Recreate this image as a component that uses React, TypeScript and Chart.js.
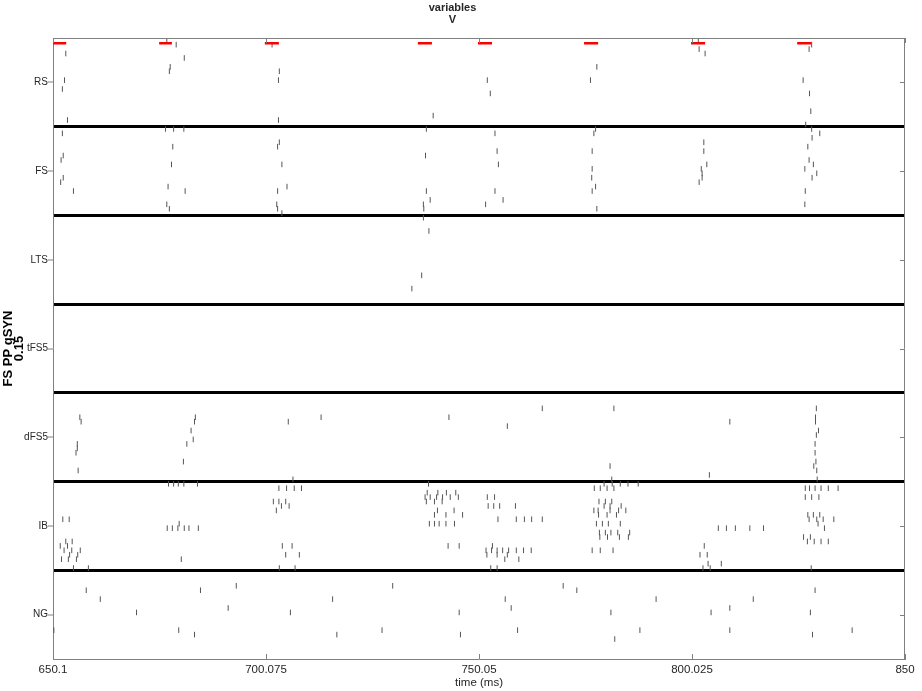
import React, { useEffect, useRef } from 'react';
import { Chart, registerables } from 'chart.js';

Chart.register(...registerables);

// ---------- data ----------
const POPULATIONS = ['RS', 'FS', 'LTS', 'tFS5', 'dFS5', 'IB', 'NG'];
const CELLS_PER_POP = 20;

const X_MIN = 650.1;
const X_MAX = 850;
const X_TICKS = [650.1, 700.075, 750.05, 800.025, 850];
const X_TICK_LABELS = ['650.1', '700.075', '750.05', '800.025', '850'];

// stimulus pulses (red bars, drawn near the top of the RS band)
const STIM_ON = [650.1, 675.0, 699.8, 735.7, 749.8, 774.7, 799.8, 824.7];
const STIM_OFF = [653.2, 678.0, 703.1, 739.0, 753.1, 778.0, 803.1, 828.0];
const STIM_LEVEL = 0.06;

// spikes: [time (ms), cell index]
const RS_SPIKES: [number, number][] = [
  [653.1, 3], [652.8, 9], [652.3, 11], [653.5, 18],
  [676.8, 0], [679.0, 1], [680.9, 4], [677.6, 6], [677.4, 7],
  [701.5, 1], [703.2, 7], [703.0, 9], [703.0, 18],
  [739.3, 17],
  [752.0, 9], [752.7, 12],
  [777.7, 6], [776.2, 9],
  [801.5, 0], [801.7, 2], [803.1, 3],
  [828.1, 1], [827.5, 2], [826.1, 9], [827.6, 12], [827.9, 16], [826.7, 19],
];

const FS_SPIKES: [number, number][] = [
  [652.3, 1], [652.5, 6], [652.0, 7], [652.5, 11], [651.9, 12], [654.9, 14],
  [676.5, 0], [678.4, 0], [680.8, 0], [678.2, 4], [677.9, 8], [677.1, 13], [681.1, 14], [676.8, 17], [677.4, 18],
  [703.2, 3], [702.8, 4], [703.8, 8], [705.0, 13], [702.8, 14], [702.6, 17], [702.8, 18], [703.8, 19],
  [737.7, 0], [737.5, 6], [737.7, 14], [738.6, 16], [737.0, 17], [737.1, 18],
  [753.8, 1], [754.3, 5], [754.6, 8], [753.8, 14], [755.7, 16], [751.6, 17],
  [777.4, 0], [777.0, 1], [776.6, 5], [776.6, 9], [776.5, 11], [777.4, 13], [776.6, 14], [777.7, 18],
  [802.8, 3], [802.8, 5], [803.5, 8], [802.2, 9], [802.4, 10], [802.4, 11], [801.7, 12],
  [828.1, 0], [830.0, 1], [828.2, 2], [827.2, 4], [827.5, 7], [828.5, 8], [826.5, 9], [829.3, 10], [828.2, 11], [826.6, 14], [826.5, 17],
];

const LTS_SPIKES: [number, number][] = [
  [737.0, 0], [738.3, 3], [736.6, 13], [734.3, 16],
];

const TFS5_SPIKES: [number, number][] = [];

const DFS5_SPIKES: [number, number][] = [
  [656.4, 5], [656.7, 6], [655.8, 11], [655.8, 12], [655.5, 13], [656.0, 17],
  [683.5, 5], [683.3, 6], [682.5, 8], [683.0, 10], [681.5, 11], [680.7, 15],
  [705.3, 6], [706.4, 19], [713.0, 5],
  [743.0, 5],
  [756.7, 7], [764.9, 3],
  [781.7, 3], [780.8, 16], [781.2, 19],
  [804.1, 18], [808.9, 6],
  [829.2, 3], [829.0, 5], [829.0, 6], [829.7, 8], [829.2, 9], [828.9, 11], [828.9, 13], [829.1, 15], [828.6, 16], [829.3, 17], [829.4, 19],
];

const IB_SPIKES: [number, number][] = [
  [677.2, 0], [678.4, 0], [679.5, 0], [680.8, 0], [684.0, 0], [738.2, 0], [779.4, 0], [781.3, 0], [783.2, 0], [785.0, 0], [787.4, 0],
  [703.1, 1], [704.9, 1], [706.7, 1], [708.4, 1], [777.1, 1], [778.5, 1], [780.1, 1], [781.7, 1], [826.6, 1], [827.6, 1], [828.9, 1], [830.3, 1], [832.0, 1], [834.3, 1],
  [737.9, 2], [740.4, 2], [742.4, 2], [744.6, 2],
  [737.4, 3], [738.6, 3], [740.1, 3], [741.5, 3], [743.3, 3], [745.2, 3], [752.0, 3], [753.7, 3], [826.6, 3], [828.1, 3], [829.8, 3],
  [701.8, 4], [703.1, 4], [704.7, 4], [737.7, 4], [739.6, 4], [741.4, 4], [778.2, 4], [779.7, 4], [781.2, 4],
  [703.7, 5], [705.5, 5], [752.2, 5], [753.5, 5], [754.9, 5], [758.6, 5], [779.4, 5], [780.8, 5], [783.4, 5],
  [702.5, 6], [740.3, 6], [744.2, 6], [777.0, 6], [778.0, 6], [780.8, 6], [782.8, 6], [784.5, 6],
  [739.6, 7], [742.3, 7], [746.2, 7], [778.1, 7], [780.1, 7], [782.3, 7], [827.2, 7], [828.5, 7], [830.0, 7],
  [652.4, 8], [653.9, 8], [754.5, 8], [758.8, 8], [760.7, 8], [762.4, 8], [764.9, 8], [827.5, 8], [829.3, 8], [830.8, 8], [833.3, 8],
  [679.7, 9], [738.4, 9], [739.6, 9], [740.7, 9], [742.3, 9], [744.3, 9], [777.6, 9], [779.0, 9], [780.4, 9], [783.2, 9], [829.6, 9],
  [676.9, 10], [678.1, 10], [679.4, 10], [680.9, 10], [682.0, 10], [684.2, 10], [806.2, 10], [808.1, 10], [810.2, 10], [813.6, 10], [816.8, 10], [831.1, 10],
  [778.3, 11], [779.7, 11], [781.0, 11], [782.6, 11], [785.4, 11],
  [778.4, 12], [780.2, 12], [783.0, 12], [785.1, 12], [826.2, 12], [827.8, 12],
  [653.1, 13], [654.6, 13], [827.1, 13], [828.7, 13], [830.3, 13], [832.0, 13],
  [651.8, 14], [653.5, 14], [703.9, 14], [706.2, 14], [742.8, 14], [745.4, 14], [753.2, 14], [802.9, 14],
  [652.7, 15], [654.5, 15], [656.5, 15], [751.7, 15], [753.0, 15], [754.3, 15], [755.6, 15], [757.0, 15], [758.8, 15], [760.5, 15], [762.3, 15], [776.6, 15], [778.5, 15], [781.5, 15],
  [654.0, 16], [655.9, 16], [704.7, 16], [707.9, 16], [751.9, 16], [754.3, 16], [756.7, 16], [801.9, 16], [803.6, 16],
  [652.1, 17], [653.7, 17], [655.6, 17], [680.2, 17], [756.1, 17], [759.4, 17],
  [803.8, 18], [806.9, 18],
  [654.9, 19], [658.4, 19], [703.2, 19], [706.9, 19], [752.8, 19], [754.3, 19], [802.6, 19], [804.3, 19], [828.0, 19],
];

const NG_SPIKES: [number, number][] = [
  [657.9, 4], [661.2, 6], [669.7, 9], [650.3, 13], [679.6, 13], [683.3, 14], [684.7, 4],
  [693.1, 3], [691.2, 8], [705.8, 9], [715.7, 6], [716.7, 14], [727.3, 13], [729.8, 3],
  [745.4, 9], [745.7, 14], [756.2, 6], [757.6, 8], [759.1, 13], [769.8, 3], [773.0, 4],
  [781.0, 9], [781.9, 15], [787.8, 13], [791.6, 6], [804.5, 9], [808.9, 8], [808.9, 13],
  [814.4, 6], [827.8, 9], [828.3, 14], [828.9, 4], [837.6, 13],
];

const SPIKES_BY_POP = [RS_SPIKES, FS_SPIKES, LTS_SPIKES, TFS5_SPIKES, DFS5_SPIKES, IB_SPIKES, NG_SPIKES];

// ---------- styling ----------
const FONT = '"Liberation Sans", Arial, Helvetica, sans-serif';
const AXIS_GRAY = '#808080';
const TEXT = '#262626';
const SPIKE_COLOR = '#555555';

const framePlugin = {
  id: 'frame',
  afterDatasetsDraw(chart: any) {
    const { ctx, chartArea } = chart;
    const { left, right, top, bottom } = chartArea;
    const xs = chart.scales.x;
    const ys = chart.scales.y;
    ctx.save();
    ctx.strokeStyle = AXIS_GRAY;
    ctx.lineWidth = 1;
    ctx.beginPath();
    ctx.moveTo(left, top + 0.5);
    ctx.lineTo(right, top + 0.5);
    ctx.moveTo(right - 0.5, top);
    ctx.lineTo(right - 0.5, bottom);
    for (const v of X_TICKS) {
      const px = Math.round(xs.getPixelForValue(v)) + 0.5;
      ctx.moveTo(px, bottom);
      ctx.lineTo(px, bottom - 5);
      ctx.moveTo(px, top);
      ctx.lineTo(px, top + 5);
    }
    POPULATIONS.forEach((_, i) => {
      const py = Math.round(ys.getPixelForValue(i + 0.5)) + 0.5;
      ctx.moveTo(right, py);
      ctx.lineTo(right - 5, py);
    });
    ctx.stroke();
    ctx.restore();
  },
};

export default function App() {
  const canvasRef = useRef<HTMLCanvasElement>(null);

  useEffect(() => {
    const canvas = canvasRef.current;
    if (!canvas) return;

    const stimData: any[] = [];
    STIM_ON.forEach((on, i) => {
      stimData.push({ x: on, y: STIM_LEVEL });
      stimData.push({ x: STIM_OFF[i], y: STIM_LEVEL });
      stimData.push({ x: STIM_OFF[i], y: null });
    });

    const spikeSets = SPIKES_BY_POP.map((spikes, p) => ({
      type: 'scatter' as const,
      label: POPULATIONS[p],
      data: spikes.map(([t, c]) => ({ x: t, y: p + (c + 0.5) / CELLS_PER_POP })),
      showLine: false,
      pointStyle: 'line',
      pointRotation: 90,
      pointRadius: 2.8,
      pointHoverRadius: 2.8,
      pointBorderWidth: 1,
      pointBorderColor: SPIKE_COLOR,
      pointBackgroundColor: SPIKE_COLOR,
    }));

    const chart = new Chart(canvas, {
      type: 'scatter',
      data: {
        datasets: [
          {
            type: 'line',
            label: 'stimulus',
            data: stimData,
            borderColor: '#ff0000',
            borderWidth: 2.5,
            pointRadius: 0,
            pointHoverRadius: 0,
            spanGaps: false,
            fill: false,
            showLine: true,
          } as any,
          ...(spikeSets as any[]),
        ],
      },
      options: {
        animation: false,
        responsive: false,
        devicePixelRatio: 1,
        events: [],
        layout: { padding: { left: 0, right: 17, top: 0, bottom: 0 } },
        plugins: {
          legend: { display: false },
          tooltip: { enabled: false },
          title: {
            display: true,
            text: ['variables', 'V'],
            color: TEXT,
            font: { family: FONT, size: 11, weight: 'bold', lineHeight: 1.1 },
            padding: { top: 1.5, bottom: 12.3 },
          },
        },
        scales: {
          x: {
            type: 'linear',
            min: X_MIN,
            max: X_MAX,
            afterBuildTicks: (s: any) => {
              s.ticks = X_TICKS.map((v) => ({ value: v }));
            },
            afterFit: (s: any) => {
              s.height = 32;
            },
            ticks: {
              autoSkip: false,
              maxRotation: 0,
              padding: 4,
              color: TEXT,
              font: { family: FONT, size: 11.5 },
              callback: (_v: any, i: number) => X_TICK_LABELS[i],
            },
            grid: { display: false, drawTicks: false },
            border: { display: true, color: AXIS_GRAY, width: 1 },
            title: {
              display: true,
              text: 'time (ms)',
              color: TEXT,
              font: { family: FONT, size: 11.5 },
              padding: { top: 0, bottom: 1 },
            },
          },
          y: {
            type: 'linear',
            min: 0,
            max: POPULATIONS.length,
            reverse: true,
            afterBuildTicks: (s: any) => {
              const t: any[] = [];
              for (let i = 0; i <= POPULATIONS.length * 2; i++) t.push({ value: i / 2 });
              s.ticks = t;
            },
            afterFit: (s: any) => {
              s.width = 53;
            },
            ticks: {
              autoSkip: false,
              padding: 0,
              color: TEXT,
              font: { family: FONT, size: 10 },
              callback: (v: any) => (Number.isInteger(v) ? '' : POPULATIONS[Math.floor(v)]),
            },
            grid: {
              color: '#000000',
              lineWidth: (c: any) => {
                const v = c.tick ? c.tick.value : 0;
                return v > 0 && v < POPULATIONS.length && Number.isInteger(v) ? 3 : 0;
              },
              drawTicks: true,
              tickLength: 5,
              tickColor: AXIS_GRAY,
              tickWidth: (c: any) => (c.tick && !Number.isInteger(c.tick.value) ? 1 : 0),
            },
            border: { display: true, color: AXIS_GRAY, width: 1 },
            title: {
              display: true,
              text: ['FS PP gSYN', '0.15'],
              color: '#000000',
              font: { family: FONT, size: 13, weight: 'bold', lineHeight: '11px' },
              padding: { top: 2.5, bottom: 0 },
            },
          },
        },
      },
      plugins: [framePlugin],
    } as any);

    return () => {
      chart.destroy();
    };
  }, []);

  return (
    <div style={{ position: 'absolute', left: 0, top: 0, width: 922, height: 691, background: '#ffffff' }}>
      <canvas ref={canvasRef} width={922} height={691} style={{ display: 'block' }} />
    </div>
  );
}
